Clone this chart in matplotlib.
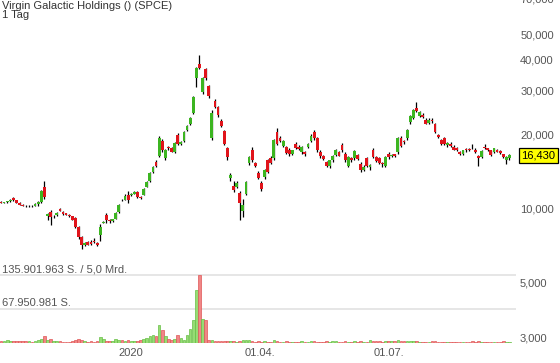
import matplotlib
matplotlib.use('Agg')
import matplotlib.pyplot as plt
import matplotlib.transforms as mtransforms
import numpy as np

plt.rcParams['font.family'] = ['Liberation Sans', 'DejaVu Sans']

title = "Virgin Galactic Holdings () (SPCE)"
subtitle = "1 Tag"

opens = [10650, 10600, 10650, 10750, 11050, 10850, 10600, 10400, 10300, 10250,
         10300, 10300, 10500, 10700, 12300, 9350, 9700, 9350, 9450, 10000,
         9750, 9600, 9500, 9350, 9200, 8500, 7700, 7200, 7400, 7400,
         7450, 7300, 7850, 8800, 9450, 9050, 8950, 9150, 9700, 10900,
         10900, 11400, 11350, 11500, 11700, 11200, 11400, 12300, 12900, 14100,
         15500, 16300, 18800, 16000, 17700, 17500, 17000, 19800, 18300, 18700,
         20800, 22000, 24300, 33600, 38200, 29500, 36500, 31200, 19300, 27100,
         25800, 22500, 20600, 17500, 13300, 12400, 12300, 11600, 9800, 11500,
         15300, 17300, 15300, 14000, 12700, 13400, 15700, 16000, 16000, 20400,
         19300, 17900, 17700, 17200, 16700, 18200, 17800, 16900, 16900, 17700,
         18800, 20400, 19300, 17000, 16300, 15500, 14900, 15700, 16500, 16900,
         18100, 16600, 14900, 16000, 16000, 16500, 15200, 14400, 16000, 14800,
         17300, 16100, 16000, 15300, 14900, 16700, 16300, 16600, 16900, 19300,
         18700, 19300, 22300, 23300, 25500, 23600, 23900, 22800, 22200, 22800,
         21900, 19800, 18900, 19300, 18000, 18300, 17800, 17500, 16900, 16700,
         17400, 17400, 17600, 17300, 16400, 16100, 17800, 17500, 17200, 16900,
         17200, 17100, 16600, 15800, 16000]
highs = [10750, 10700, 10800, 10950, 11150, 10900, 10650, 10450, 10350, 10350,
         10350, 10550, 10750, 11900, 12900, 9600, 9900, 9500, 9700, 10100,
         9800, 9650, 9550, 9400, 9250, 8550, 7800, 7400, 7450, 7500,
         7650, 7350, 8700, 8950, 9650, 9150, 9150, 9700, 10500, 11000,
         11500, 11800, 11550, 11800, 11800, 11300, 12100, 12900, 14100, 14900,
         15700, 19600, 19100, 17400, 17900, 17800, 18600, 20200, 18700, 20500,
         21700, 23500, 28500, 37200, 41500, 34000, 37000, 31500, 25000, 27600,
         26000, 23000, 20800, 17700, 13900, 12900, 12900, 11800, 11000, 12900,
         16400, 17800, 15500, 14200, 12900, 14500, 15900, 16300, 19100, 21100,
         19600, 18900, 17900, 17500, 17300, 18600, 18000, 17900, 17100, 18400,
         20000, 20800, 19400, 17200, 16500, 15600, 15800, 16500, 17400, 17100,
         18400, 16900, 16400, 16200, 17300, 16700, 15400, 15000, 16200, 15100,
         17600, 16300, 16200, 15500, 16400, 17000, 16600, 16700, 19500, 19600,
         19000, 21000, 23900, 25200, 26800, 24800, 24300, 23100, 23300, 23200,
         22200, 20000, 19100, 19500, 18500, 18500, 18000, 17700, 17100, 17300,
         17500, 17600, 18300, 17500, 16500, 17200, 18200, 17600, 17300, 17600,
         17400, 17200, 16700, 16300, 16600]
lows = [10550, 10550, 10600, 10700, 10800, 10550, 10350, 10250, 10200, 10200,
        10200, 10250, 10300, 10600, 11000, 9000, 8600, 9200, 9350, 9800,
        9500, 9450, 9300, 9000, 8400, 7600, 6900, 7100, 7150, 7150,
        7300, 7100, 7450, 8750, 8800, 8800, 8900, 9100, 9650, 10800,
        10850, 10600, 11300, 11450, 11100, 11000, 11350, 12200, 12850, 14000,
        14700, 16100, 17000, 15700, 17300, 16900, 16800, 18100, 18000, 18500,
        20600, 21800, 24000, 31000, 36500, 29000, 33000, 28000, 19000, 25400,
        23500, 21300, 18000, 15800, 13000, 11700, 12100, 9000, 9300, 11400,
        15000, 15500, 14800, 13200, 11800, 13200, 13900, 15200, 15800, 18000,
        18500, 17700, 16600, 16400, 16500, 17400, 17200, 16700, 16300, 17500,
        18600, 19000, 17000, 16000, 15700, 14800, 14600, 15500, 16300, 16300,
        17000, 15500, 14700, 15500, 15800, 15700, 14100, 14200, 14700, 14300,
        16000, 15500, 15100, 14800, 14700, 15900, 16100, 16200, 16700, 17700,
        18300, 19000, 22000, 23000, 24500, 23400, 23300, 21900, 22000, 22200,
        20200, 19200, 18000, 18000, 17800, 17700, 17200, 17100, 16500, 16500,
        17000, 17100, 17400, 16800, 14900, 16000, 17400, 17100, 16400, 16800,
        16900, 16700, 16000, 15200, 15800]
closes = [10600, 10650, 10750, 10900, 10850, 10600, 10400, 10300, 10250, 10300,
          10250, 10500, 10650, 11800, 11200, 9550, 9300, 9400, 9650, 9850,
          9550, 9500, 9400, 9050, 8500, 7700, 7200, 7300, 7200, 7250,
          7350, 7200, 8450, 8900, 9050, 8950, 9100, 9650, 10400, 10850,
          11300, 10900, 11500, 11700, 11200, 11100, 12000, 12800, 13900, 14800,
          14850, 19300, 17300, 17200, 17500, 17000, 18400, 18300, 18500, 20400,
          21500, 23200, 28200, 36800, 36900, 33600, 33600, 28400, 24300, 25700,
          23800, 21600, 18200, 16200, 13700, 11900, 12700, 10600, 10400, 12800,
          16200, 15700, 14900, 13300, 12000, 14300, 14100, 15300, 18900, 18200,
          18700, 18700, 16800, 16600, 17200, 17600, 17400, 17700, 16600, 18200,
          19600, 19300, 17200, 16300, 15900, 14900, 15700, 16400, 17200, 16400,
          17250, 15700, 16200, 15700, 17100, 15900, 14300, 14800, 14900, 15000,
          16200, 15600, 15300, 15100, 16200, 16100, 16500, 16300, 19300, 17900,
          18500, 20800, 23600, 24900, 24800, 24500, 23400, 22000, 22800, 22500,
          20400, 19400, 18200, 18200, 18400, 17900, 17300, 17200, 16600, 17200,
          17200, 17200, 17500, 16900, 16000, 17100, 17500, 17200, 16500, 17500,
          17000, 16800, 16100, 16200, 16430]
# volume in millions of shares
volumes = [2, 3, 5, 2, 3, 2, 3, 2, 3, 2,
           1.5, 2, 5, 6, 12, 5, 6, 3, 2, 2,
           1.5, 1.5, 1.5, 2, 4, 6, 4, 2, 1.5, 2,
           1.5, 3, 10, 6, 3, 2, 3, 7, 4, 5,
           3, 4, 2, 2, 3, 5, 7, 8, 12, 14,
           12, 35, 24, 12, 6, 4, 6, 15, 8, 5,
           15, 26, 45, 104, 135.9, 46, 45, 4, 5, 3,
           2, 2, 2, 3, 2, 2, 1.5, 3, 4, 5,
           4, 2, 1.5, 2, 1.5, 2, 1.5, 1.5, 4, 3,
           1.5, 1.5, 2, 1.5, 1.5, 1.5, 1.5, 2, 1.5, 1.5,
           2.5, 2, 1.5, 1.5, 1.5, 2, 1.5, 2, 3, 1.5,
           1.5, 2, 1.5, 1.5, 2, 1.5, 2, 1.5, 1.5, 5,
           2, 2, 2.5, 1.5, 3, 2, 2, 2, 5, 3.5,
           2, 2.5, 3, 2, 2, 1.5, 1.5, 1.5, 1.5, 2,
           3, 1.5, 1.5, 1.5, 1.5, 1.5, 1.5, 1.5, 1.5, 1.5,
           1.5, 1.5, 2, 1.5, 2, 1.5, 1.5, 1.5, 1.5, 1.5,
           1.5, 1.5, 2, 1.5, 1.5]

max_volume = 135.901963
max_vol_label = "135.901.963 S. / 5,0 Mrd."
half_vol_label = "67.950.981 S."
vol_axis_labels = ["5,000", "3,000"]
price_ticks = [10000, 20000, 30000, 40000, 50000, 70000]
date_tick_index = [42, 83.5, 125]
date_tick_labels = ["2020", "01.04.", "01.07."]
last_price_label = "16,430"

W, H = 560, 363
fig = plt.figure(figsize=(W / 100, H / 100), dpi=100)


def px_ax(x0, y0, x1, y1):
    return fig.add_axes([x0 / W, 1 - y1 / H, (x1 - x0) / W, (y1 - y0) / H])


ax = px_ax(0, -5, 516, 255)
axv = px_ax(0, 255, 516, 342.5)

n = len(closes)
x = np.arange(n)
o = np.array(opens, float)
c = np.array(closes, float)
h = np.array(highs, float)
l = np.array(lows, float)
v = np.array(volumes, float)

up = c >= o
body_col = np.where(up, '#3cb521', '#e0141b')

ax.set_yscale('log')
ax.vlines(x, l, h, color='black', lw=0.9, zorder=2)
ax.bar(x, c - o, bottom=o, width=0.9, color=body_col, linewidth=0, zorder=3)
ax.set_ylim(6535, 72350)
ax.set_xlim(-0.32, 166.1)
for s in ax.spines.values():
    s.set_visible(False)
ax.yaxis.tick_right()
ax.set_yticks(price_ticks)
ax.set_yticklabels([f"{t:,}" for t in price_ticks])
ax.minorticks_off()
ax.tick_params(axis='y', length=0, pad=3, labelsize=8, labelcolor='#555555')
ax.set_xticks([])
ax.patch.set_alpha(0)

ax.annotate(last_price_label, xy=(1, c[-1]),
            xycoords=mtransforms.blended_transform_factory(ax.transAxes, ax.transData),
            xytext=(4, 0), textcoords='offset points', ha='left', va='center',
            fontsize=8, color='black', annotation_clip=False,
            bbox=dict(boxstyle='square,pad=0.2', fc='#ffff00', ec='black', lw=0.9))

# volume (coloured like its candle)
vface = np.where(up, '#96dc74', '#f08686')
vedge = np.where(up, '#66be44', '#e05656')
axv.bar(x, v, width=0.85, color=vface, edgecolor=vedge, linewidth=0.5, zorder=3)
axv.axhline(max_volume, color='#e4e4e4', lw=1.3, zorder=1)
axv.axhline(max_volume / 2, color='#e4e4e4', lw=1.3, zorder=1)
axv.set_ylim(0, max_volume * 87.5 / 68)
axv.set_xlim(-0.32, 166.1)
for s in axv.spines.values():
    s.set_visible(False)
axv.set_yticks([])
axv.set_xticks(date_tick_index)
axv.set_xticklabels(date_tick_labels)
axv.tick_params(axis='x', length=0, pad=4, labelsize=8, labelcolor='#555555')
axv.patch.set_alpha(0)

bt = mtransforms.blended_transform_factory(axv.transAxes, axv.transData)
axv.annotate(max_vol_label, xy=(0, max_volume), xycoords=bt, xytext=(1.2, 1.8),
             textcoords='offset points', va='baseline', ha='left', fontsize=8,
             color='#555555', annotation_clip=False)
axv.annotate(half_vol_label, xy=(0, max_volume / 2), xycoords=bt, xytext=(1.2, 1.8),
             textcoords='offset points', va='baseline', ha='left', fontsize=8,
             color='#555555', annotation_clip=False)
axv.text(1 + 4 / 516, 0.68, vol_axis_labels[0], transform=axv.transAxes,
         ha='left', va='center', fontsize=8, color='#555555')
axv.text(1 + 4 / 516, 0.051, vol_axis_labels[1], transform=axv.transAxes,
         ha='left', va='center', fontsize=8, color='#555555')

fig.text(2 / W, 1 - 9 / H, title, ha='left', va='baseline', fontsize=8, color='#333333')
fig.text(2 / W, 1 - 18 / H, subtitle, ha='left', va='baseline', fontsize=8, color='#333333')

fig.savefig('out.png', dpi=100)
